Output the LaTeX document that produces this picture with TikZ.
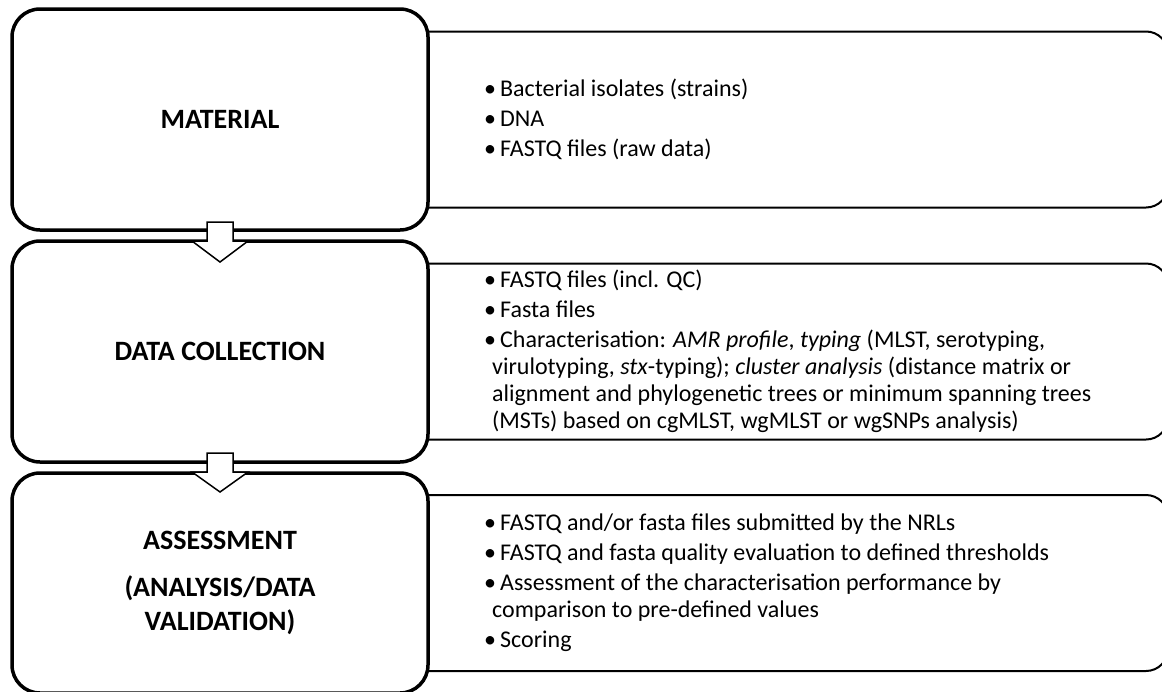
\documentclass[tikz,border=0pt]{standalone}
\usepackage{fontspec}
\setmainfont{Carlito}
\usetikzlibrary{positioning,calc,backgrounds}
\tikzset{
stage/.style = {draw, fill=white, rectangle, rounded corners=28pt, line width=3.5pt, minimum width=416pt, minimum height=221pt, outer sep=0pt, align=center, font=\fontsize{28}{34}\selectfont\bfseries},
info/.style = {draw, fill=white, rectangle, rounded corners=22pt, line width=2pt, minimum width=770pt, minimum height=176pt, outer sep=0pt, anchor=west},
items/.style = {anchor=west, inner sep=0pt, align=left, font=\fontsize{24}{27}\selectfont},
flow/.style = {draw, fill=white, line width=1.5pt, line join=miter}
}
\newcommand{\itm}{\makebox[16pt][l]{\textbullet}}
\newcommand{\cont}{\hspace*{8pt}}

\begin{document}
\begin{tikzpicture}[x=1pt, y=-1pt]
\clip (0,0) rectangle (1162,691);

% stages on the left
\node [stage] (mat) at (220,119.5) {MATERIAL};
\node [stage, below=11pt of mat] (coll) {DATA COLLECTION};
\node [stage, below=11pt of coll, minimum height=220pt] (assess) {ASSESSMENT\\[13pt](ANALYSIS/DATA\\VALIDATION)};

% boxes behind them
\begin{pgfonlayer}{background}
\node [info] (matinfo) at ([xshift=-30pt]mat.east) {};
\node [info] (collinfo) at ([xshift=-30pt]coll.east) {};
\node [info] (assessinfo) at ([xshift=-30pt]assess.east) {};
\end{pgfonlayer}

\node [items] (matlist) at ([xshift=86pt]matinfo.west) {\itm Bacterial isolates (strains)\\[3pt]
\itm DNA\\[3pt]
\itm FASTQ files (raw data)};
\node [items] (colllist) at ([xshift=86pt]collinfo.west) {\itm FASTQ files (incl. QC)\\[3pt]
\itm Fasta files\\[3pt]
\itm Characterisation: \textit{AMR profile}, \textit{typing} (MLST, serotyping,\\
\cont virulotyping, \textit{stx}-typing); \textit{cluster analysis} (distance matrix or\\
\cont alignment and phylogenetic trees or minimum spanning trees\\
\cont (MSTs) based on cgMLST, wgMLST or wgSNPs analysis)};
\node [items] (assesslist) at ([xshift=86pt]assessinfo.west) {\itm FASTQ and/or fasta files submitted by the NRLs\\[3pt]
\itm FASTQ and fasta quality evaluation to defined thresholds\\[3pt]
\itm Assessment of the characterisation performance by\\
\cont comparison to pre-defined values\\[3pt]
\itm Scoring};

% block arrows
\draw [flow] ($(mat.south)+(-13,-8)$) -- ($(coll.north)+(-13,0)$) -- ++(-15,0) -- ($(coll.north)+(0,21)$)
  -- ($(coll.north)+(28,0)$) -- ++(-15,0) -- ($(mat.south)+(13,-8)$) -- cycle;
\draw [flow] ($(coll.south)+(-13,-9)$) -- ($(assess.north)+(-13,-1)$) -- ++(-15,0) -- ($(assess.north)+(0,19)$)
  -- ($(assess.north)+(28,-1)$) -- ++(-15,0) -- ($(coll.south)+(13,-9)$) -- cycle;
\end{tikzpicture}
\end{document}
